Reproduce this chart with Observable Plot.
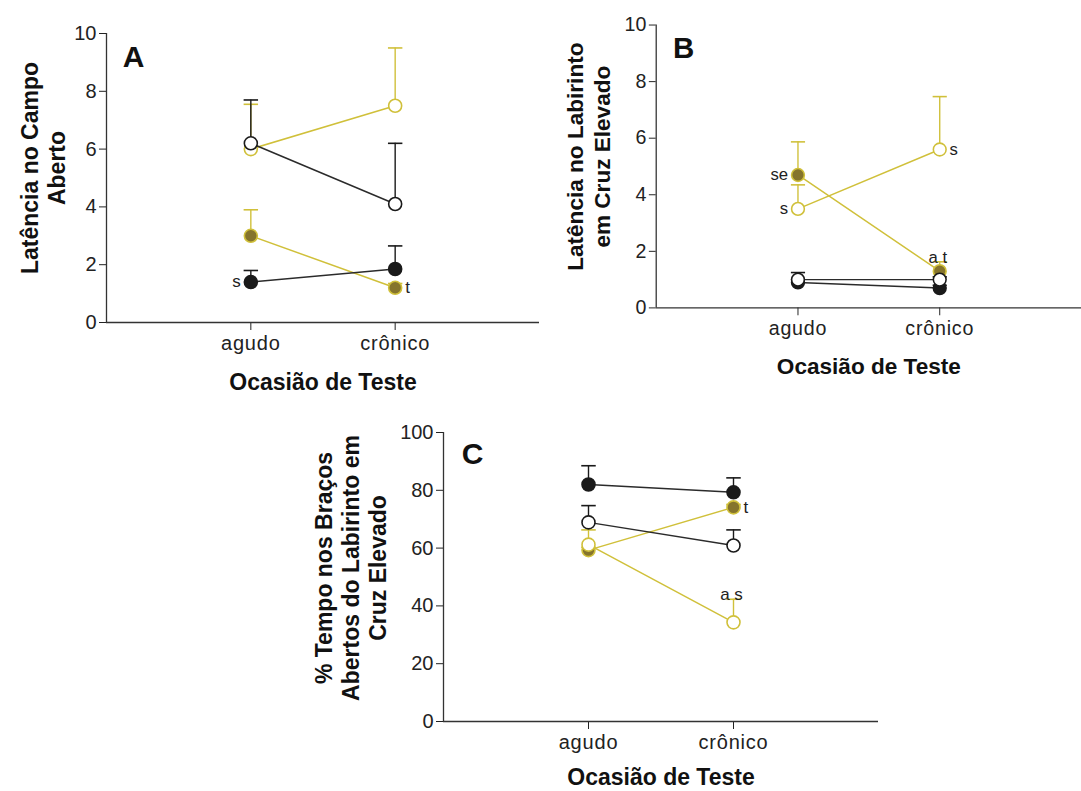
<!DOCTYPE html>
<html><head><meta charset="utf-8">
<script src="https://cdn.jsdelivr.net/npm/d3@7"></script>
<script src="https://cdn.jsdelivr.net/npm/@observablehq/plot@0.6"></script>
<style>
html,body{margin:0;padding:0;background:#fff;overflow:hidden;}
#wrap{position:relative;width:1081px;height:791px;overflow:hidden;background:#fff;}
#wrap > .panel{position:absolute;}
g[aria-label="x-axis tick label"] text, g[aria-label="x-axis"] text {letter-spacing:0.8px;}
</style></head><body><div id="wrap"></div>
<script>
// ---- data ----
const categories = ["agudo", "crônico"];
const groups = ["Grupo 1", "Grupo 2", "Grupo 3", "Grupo 4"];
const groupStroke = ["#1a1a1a", "#1a1a1a", "#d0c03a", "#d0c03a"];
const groupFill = ["#1a1a1a", "#ffffff", "#85742c", "#ffffff"];
const lineColor = ["#2b2b2b", "#2b2b2b", "#d0c03a", "#d0c03a"];

const xTitle = "Ocasião de Teste";

// Panel A
const meanA = [[1.4, 1.85], [6.2, 4.1], [3.0, 1.2], [6.0, 7.5]];
const semA  = [[0.4, 0.8], [1.5, 2.1], [0.9, 0.15], [1.55, 2.0]];
const yTicksA = [0, 2, 4, 6, 8, 10];
const yTitleA = "Latência no Campo\nAberto";
const annA = [
  {group: 0, cat: 0, label: "s", side: "left"},
  {group: 2, cat: 1, label: "t", side: "right"}
];

// Panel B
const meanB = [[0.9, 0.7], [1.0, 1.0], [4.7, 1.3], [3.5, 5.6]];
const semB  = [[0.1, 0.1], [0.25, 0.1], [1.17, 0.33], [0.85, 1.87]];
const yTicksB = [0, 2, 4, 6, 8, 10];
const yTitleB = "Latência no Labirinto\nem Cruz Elevado";
const annB = [
  {group: 2, cat: 0, label: "se", side: "left"},
  {group: 3, cat: 0, label: "s", side: "left"},
  {group: 3, cat: 1, label: "s", side: "right"},
  {group: 2, cat: 1, label: "a t", side: "above"}
];

// Panel C
const meanC = [[82, 79.3], [68.9, 60.9], [59.3, 74.1], [61.2, 34.3]];
const semC  = [[6.5, 5.0], [5.8, 5.4], [1.0, 1.0], [5.1, 8.0]];
const yTicksC = [0, 20, 40, 60, 80, 100];
const yTitleC = "% Tempo nos Braços\nAbertos do Labirinto em\nCruz Elevado";
const annC = [
  {group: 2, cat: 1, label: "t", side: "right"},
  {group: 3, cat: 1, label: "a s", side: "above"}
];

const FONT = "'Liberation Sans', Arial, Helvetica, sans-serif";

function panel(cfg) {
  const rows = [];
  groups.forEach((g, gi) => categories.forEach((c, ci) => {
    rows.push({group: g, gi, x: ci + 1, cat: c, mean: cfg.mean[gi][ci], top: cfg.mean[gi][ci] + cfg.sem[gi][ci]});
  }));
  const ann = cfg.ann.map(a => ({...a, x: a.cat + 1, y: cfg.mean[a.group][a.cat], top: cfg.mean[a.group][a.cat] + cfg.sem[a.group][a.cat]}));
  const marks = [
    Plot.ruleY([0], {stroke: "#333", strokeWidth: 1.3}),
    Plot.ruleX([0], {stroke: "#333", strokeWidth: 1.3})
  ];
  const order = [2, 3, 0, 1];
  for (const gi of order) {
    const rg = rows.filter(d => d.gi === gi);
    marks.push(
      Plot.ruleX(rg, {x: "x", y1: "mean", y2: "top", stroke: groupStroke[gi], strokeWidth: 1.4}),
      Plot.link(rg, {x1: d => d.x - 0.05, x2: d => d.x + 0.05, y1: "top", y2: "top", stroke: groupStroke[gi], strokeWidth: 1.6}),
      Plot.line(rg, {x: "x", y: "mean", stroke: lineColor[gi], strokeWidth: 1.5}),
      Plot.dot(rg, {x: "x", y: "mean", r: 6.5, fill: groupFill[gi], stroke: groupStroke[gi], strokeWidth: 1.6})
    );
  }
  marks.push(
    Plot.text(ann.filter(a => a.side === "left"), {x: "x", y: "y", text: "label", textAnchor: "end", dx: -10, fontSize: 17, fill: "#222"}),
    Plot.text(ann.filter(a => a.side === "right"), {x: "x", y: "y", text: "label", textAnchor: "start", dx: 10, fontSize: 17, fill: "#222"}),
    Plot.text(ann.filter(a => a.side === "above"), {x: "x", y: "top", text: "label", textAnchor: "middle", lineAnchor: "bottom", dx: -2, dy: 1, fontSize: 17, fill: "#222"}),
    Plot.text([cfg.letter], {frameAnchor: "top-left", text: d => d, textAnchor: "middle", lineAnchor: "middle", dx: cfg.letterDx, dy: cfg.letterDy, fontSize: 30, fontWeight: "bold", fill: "#111"}),
    Plot.text([cfg.yTitle], {frameAnchor: "left", text: d => d, textAnchor: "middle", lineAnchor: "middle", rotate: -90, dx: cfg.yTitleDx, dy: cfg.yTitleDy, fontSize: 23, fontWeight: "bold", lineHeight: 1.17, fill: "#111"}),
    Plot.text([xTitle], {frameAnchor: "bottom", text: d => d, textAnchor: "middle", lineAnchor: "middle", dy: cfg.xTitleDy, fontSize: 23, fontWeight: "bold", fill: "#111"})
  );
  const chart = Plot.plot({
    width: cfg.width, height: cfg.height,
    marginLeft: cfg.ml, marginRight: cfg.mr, marginTop: cfg.mt, marginBottom: cfg.mb,
    style: {fontFamily: FONT, fontSize: "20px", color: "#222", background: "transparent", overflow: "visible"},
    x: {domain: [0, 3], ticks: [1, 2], tickFormat: d => categories[d - 1], tickSize: 8, tickPadding: 5, label: null},
    y: {domain: cfg.yDomain, ticks: cfg.yTicks, tickSize: 7, tickPadding: 3, label: null},
    marks
  });
  const div = document.createElement("div");
  div.className = "panel";
  div.style.left = cfg.left + "px";
  div.style.top = cfg.top + "px";
  div.appendChild(chart);
  document.getElementById("wrap").appendChild(div);
}

panel({mean: meanA, sem: semA, ann: annA, yTicks: yTicksA, yDomain: [0, 10], yTitle: yTitleA, letter: "A",
  left: 0, top: 0, width: 560, height: 400, ml: 106, mr: 21, mt: 33, mb: 78,
  letterDx: 27, letterDy: 24, yTitleDx: -63.5, yTitleDy: -10, xTitleDy: 60});
panel({mean: meanB, sem: semB, ann: annB, yTicks: yTicksB, yDomain: [0, 10], yTitle: yTitleB, letter: "B",
  left: 530, top: 0, width: 561, height: 400, ml: 128, mr: 0, mt: 25, mb: 87,
  letterDx: 28, letterDy: 24, yTitleDx: -69.5, yTitleDy: -10, xTitleDy: 60});
panel({mean: meanC, sem: semC, ann: annC, yTicks: yTicksC, yDomain: [0, 100], yTitle: yTitleC, letter: "C",
  left: 290, top: 400, width: 600, height: 391, ml: 153, mr: 12, mt: 32, mb: 70,
  letterDx: 29, letterDy: 22, yTitleDx: -93, yTitleDy: -9, xTitleDy: 56});
</script></body></html>
